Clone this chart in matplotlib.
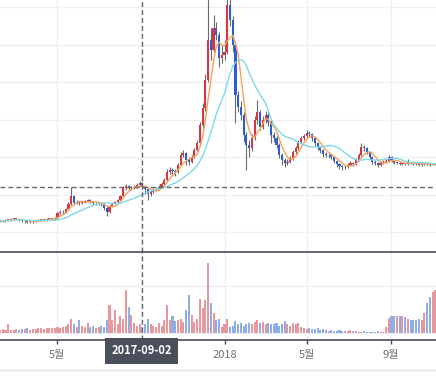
import numpy as np
import pandas as pd
import matplotlib
matplotlib.use("Agg")
import matplotlib.pyplot as plt
import matplotlib.dates as mdates
import matplotlib.transforms as mtrans
from matplotlib.lines import Line2D

plt.rcParams['font.family'] = ['Noto Sans CJK KR', 'DejaVu Sans']

START = "2017-02-07"   # 4일봉 시작일
CROSS_DATE = "2017-09-02"
CROSS_IDX = 52

# 가격 (만원), 4일 단위
close = [
    117, 117, 128, 128, 139, 139, 139, 128, 117, 117,
    107, 107, 117, 117, 128, 128, 128, 139, 139, 139,
    149, 203, 213, 213, 245, 299, 384, 309, 320, 309,
    320, 331, 341, 320, 309, 309, 309, 299, 256, 213,
    277, 309, 320, 341, 384, 469, 491, 469, 469, 480,
    501, 523, 480, 459, 405, 427, 448, 459, 480, 512,
    555, 640, 661, 651, 640, 715, 821, 843, 768, 747,
    800, 875, 949, 1141, 1323, 1621, 2048, 1941, 2176, 2101,
    1856, 1888, 1920, 2421, 2261, 1995, 1461, 1333, 1248, 1035,
    928, 896, 1003, 1195, 1280, 1120, 1195, 1248, 1173, 1035,
    1003, 928, 821, 768, 736, 747, 789, 853, 896, 960,
    1003, 1024, 1056, 1045, 1003, 949, 907, 875, 832, 821,
    821, 800, 757, 725, 704, 693, 693, 715, 736, 725,
    768, 821, 907, 896, 853, 800, 747, 736, 715, 736,
    747, 757, 800, 768, 736, 741, 730, 736, 725, 747,
    736, 730, 725, 720, 725, 730, 725, 720, 725, 725,
]
high = [
    128, 128, 139, 139, 149, 149, 152, 144, 133, 128,
    123, 117, 128, 133, 139, 139, 139, 149, 149, 155,
    165, 219, 235, 235, 261, 320, 480, 395, 341, 331,
    336, 347, 357, 352, 331, 325, 325, 315, 309, 267,
    293, 325, 336, 357, 400, 491, 512, 507, 491, 501,
    523, 544, 533, 491, 469, 448, 469, 480, 501, 533,
    576, 672, 693, 683, 672, 736, 853, 875, 853, 789,
    821, 896, 981, 1173, 1376, 1685, 2600, 2176, 2315, 2240,
    2133, 1995, 2048, 2650, 2500, 2300, 2030, 1500, 1400, 1280,
    1067, 981, 1045, 1240, 1408, 1300, 1240, 1290, 1270, 1190,
    1067, 1024, 949, 843, 789, 779, 811, 875, 917, 981,
    1024, 1045, 1088, 1077, 1056, 1013, 960, 917, 885, 853,
    843, 832, 811, 768, 736, 715, 715, 736, 757, 747,
    789, 843, 949, 928, 907, 864, 811, 768, 747, 757,
    768, 779, 821, 811, 779, 752, 747, 747, 741, 779,
    752, 741, 736, 731, 736, 741, 736, 731, 736, 736,
]
low = [
    107, 107, 112, 117, 122, 128, 128, 120, 107, 101,
    96, 96, 101, 107, 117, 117, 117, 123, 128, 128,
    133, 144, 192, 197, 203, 240, 288, 293, 299, 293,
    299, 309, 320, 309, 293, 293, 288, 277, 240, 171,
    203, 267, 299, 309, 331, 373, 448, 448, 448, 459,
    469, 491, 459, 405, 341, 384, 416, 437, 448, 469,
    501, 544, 619, 619, 597, 629, 704, 800, 715, 715,
    736, 789, 864, 939, 1120, 1291, 1600, 1835, 1920, 2048,
    1760, 1800, 1835, 1900, 2200, 1920, 1163, 1280, 1195, 960,
    661, 800, 864, 981, 1150, 1090, 1100, 1160, 1130, 949,
    960, 896, 789, 715, 693, 715, 736, 768, 832, 875,
    939, 981, 1003, 1013, 971, 917, 875, 843, 800, 800,
    789, 779, 736, 693, 672, 661, 672, 683, 704, 704,
    715, 757, 811, 864, 832, 779, 725, 715, 693, 704,
    725, 736, 747, 747, 725, 725, 720, 720, 715, 715,
    725, 720, 715, 709, 709, 715, 715, 709, 715, 715,
]
# 거래량 (천)
volume = [
    3, 4, 3, 9, 3, 3, 4, 3, 4, 4,
    5, 3, 4, 4, 5, 5, 4, 5, 5, 5,
    5, 6, 5, 6, 7, 9, 15, 9, 6, 14,
    7, 6, 10, 6, 7, 5, 6, 7, 6, 14,
    30, 13, 24, 9, 18, 15, 46, 27, 19, 10,
    7, 9, 6, 9, 15, 9, 7, 6, 10, 7,
    13, 30, 14, 18, 12, 14, 15, 11, 24, 40,
    19, 11, 15, 36, 26, 35, 74, 32, 21, 13,
    15, 6, 9, 15, 6, 7, 12, 9, 10, 7,
    9, 10, 9, 11, 14, 10, 11, 9, 10, 9,
    9, 10, 7, 9, 12, 9, 7, 10, 9, 10,
    6, 5, 4, 5, 4, 4, 5, 3, 4, 3,
    2, 3, 2, 2, 3, 2, 2, 2, 3, 2,
    2, 1, 1, 2, 1, 1, 1, 1, 2, 1,
    1, 6, 16, 18, 18, 18, 18, 18, 17, 15,
    14, 14, 13, 15, 14, 21, 32, 38, 43, 45,
]

# 2017-09 눈금 라벨은 십자선 날짜 상자에 가려져 보이지 않음
tick_dates = ["2017-05-01", "2017-09-01", "2018-01-01", "2018-05-01", "2018-09-01"]
tick_labels = ["5월", "", "2018", "5월", "9월"]

dates = pd.date_range(START, periods=len(close), freq="4D")
df = pd.DataFrame({"close": close, "high": high, "low": low, "volume": volume}, index=dates)
df["open"] = df["close"].shift(1).fillna(df["close"].iloc[0])
df["ma20"] = df["close"].rolling(5, min_periods=1).mean()
df["ma60"] = df["close"].rolling(15, min_periods=1).mean()

x = mdates.date2num(df.index)
up = df["close"] >= df["open"]
body_col = np.where(up, "#d93442", "#2a5fd2")
vol_col = np.where(up, "#e8979d", "#8eaee8")

GRID = "#edf1f6"
DARK = "#4b4b58"

fig = plt.figure(figsize=(4.36, 3.85), dpi=100)
ax = fig.add_axes([0, 1 - 252 / 385, 1, 252 / 385])
axv = fig.add_axes([0, 45 / 385, 1, 88 / 385], sharex=ax)

# 캔들
ax.vlines(x, df["low"], df["high"], color="#6b6b6b", lw=0.8, zorder=2)
body_h = np.maximum((df["close"] - df["open"]).abs(), 6)
ax.bar(x, body_h, bottom=np.minimum(df["open"], df["close"]), width=3.1,
       color=body_col, zorder=2.2)
ax.plot(x, df["ma20"], color="#f7a25c", lw=1.0, zorder=3)
ax.plot(x, df["ma60"], color="#7fd9e8", lw=1.0, zorder=3)

# 거래량
axv.bar(x, df["volume"], width=3.0, color=vol_col, zorder=2)

# 십자선
cx = mdates.date2num(pd.Timestamp(CROSS_DATE))
dash = (0, (3.5, 2.2))
ax.axvline(cx, color="#666666", lw=1, ls=dash, zorder=4)
axv.axvline(cx, color="#666666", lw=1, ls=dash, zorder=4)
ax.axhline(df["close"].iloc[CROSS_IDX], color="#666666", lw=1, ls=dash, zorder=4)

x0 = mdates.date2num(pd.Timestamp(START))
ax.set_xlim(x0, x0 + 637)
ax.set_ylim(-213, 2475)
ax.set_yticks(range(0, 2401, 400))
axv.set_ylim(-7.8, 86)
axv.set_yticks([0, 50])

for a in (ax, axv):
    a.grid(True, color=GRID, lw=1)
    a.set_axisbelow(True)
    a.tick_params(axis="y", left=False, labelleft=False)
    for s in ("left", "right"):
        a.spines[s].set_visible(False)

for s in ax.spines.values():
    s.set_visible(False)
ax.tick_params(axis="x", length=0, labelbottom=False)

axv.spines["top"].set_color(DARK)
axv.spines["bottom"].set_color(DARK)
axv.spines["top"].set_linewidth(1.2)
axv.spines["bottom"].set_linewidth(1.2)
axv.set_xticks(mdates.date2num(pd.to_datetime(tick_dates)))
axv.set_xticklabels(tick_labels)
axv.tick_params(axis="x", length=3, width=1, color=DARK, labelcolor="#707070",
                labelsize=8, pad=4)

trans = mtrans.blended_transform_factory(axv.transData, axv.transAxes)
axv.text(cx, -0.125, CROSS_DATE, transform=trans, ha="center", va="center",
         color="white", fontsize=8, fontweight="bold", clip_on=False, zorder=10,
         bbox=dict(boxstyle="square,pad=0.55", fc="#4a4f5b", ec="none"))

fig.add_artist(Line2D([0, 1], [15 / 385, 15 / 385], transform=fig.transFigure,
                      color="#e2e2e2", lw=1))

fig.savefig("out.png", dpi=100, facecolor="white")
